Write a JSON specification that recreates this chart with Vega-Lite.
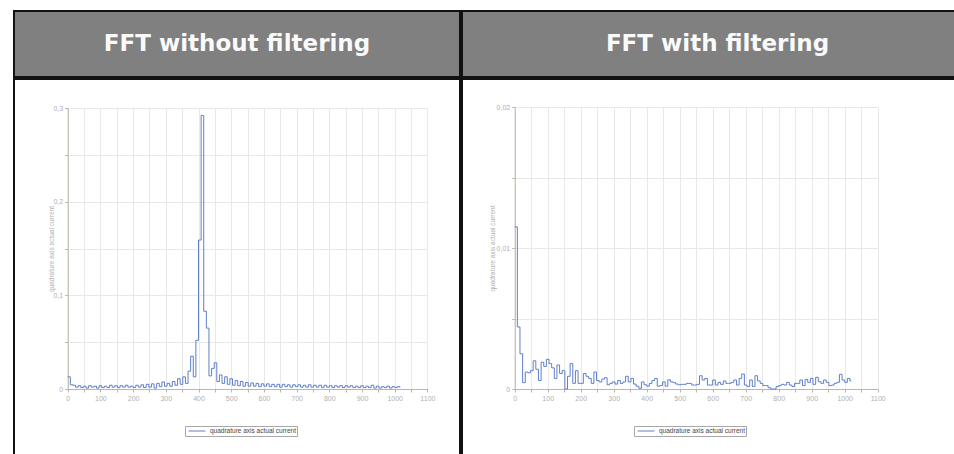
{
  "$schema": "https://vega.github.io/schema/vega-lite/v6.json",
  "background": "white",
  "padding": {"left": 13, "top": 10, "right": 0, "bottom": 0},
  "config": {
    "view": {"stroke": null},
    "font": "Liberation Sans",
    "axis": {"domainColor": "#bdb5a5", "tickColor": "#bdb5a5", "labelColor": "#b0b0b0", "labelFontSize": 7, "labelFont": "Liberation Sans", "gridColor": "#e8e8e8", "gridWidth": 1, "tickSize": 3, "labelPadding": 2, "titleColor": "#b0b0b0", "titleFontSize": 6.5, "titleFontWeight": "normal", "titleFont": "Liberation Sans", "labelFlush": false, "labelOverlap": false},
    "legend": {"orient": "none", "title": null, "strokeColor": "#a8a8a8", "fillColor": "white", "padding": 1, "symbolType": "M-0.4,0H4.4", "symbolStrokeWidth": 1, "symbolSize": 49, "labelFontSize": 6.5, "labelColor": "#444444", "labelFont": "Liberation Sans", "labelOffset": 16}
  },
  "datasets": {
    "raw": [
      {"f":0,"v":0.013},{"f":8,"v":0.0045},{"f":16,"v":0.004},{"f":24,"v":0.002},{"f":32,"v":0.0035},{"f":40,"v":0.0015},{"f":48,"v":0.003},{"f":56,"v":0.001},{"f":64,"v":0.0035},{"f":72,"v":0.002},{"f":80,"v":0.003},{"f":88,"v":0.001},{"f":96,"v":0.0035},{"f":104,"v":0.0015},{"f":112,"v":0.003},{"f":120,"v":0.0015},{"f":128,"v":0.004},{"f":136,"v":0.002},{"f":144,"v":0.0035},{"f":152,"v":0.0015},{"f":160,"v":0.0035},{"f":168,"v":0.002},{"f":176,"v":0.004},{"f":184,"v":0.002},{"f":192,"v":0.003},{"f":200,"v":0.0015},{"f":208,"v":0.004},{"f":216,"v":0.002},{"f":224,"v":0.0045},{"f":232,"v":0.0015},{"f":240,"v":0.005},{"f":248,"v":0.002},{"f":256,"v":0.0055},{"f":264,"v":0.001},{"f":272,"v":0.006},{"f":280,"v":0.0025},{"f":288,"v":0.0075},{"f":296,"v":0.003},{"f":304,"v":0.006},{"f":312,"v":0.003},{"f":320,"v":0.008},{"f":328,"v":0.004},{"f":336,"v":0.011},{"f":344,"v":0.005},{"f":352,"v":0.013},{"f":360,"v":0.006},{"f":368,"v":0.019},{"f":376,"v":0.035},{"f":384,"v":0.013},{"f":392,"v":0.052},{"f":400,"v":0.159},{"f":408,"v":0.292},{"f":416,"v":0.083},{"f":424,"v":0.065},{"f":432,"v":0.014},{"f":440,"v":0.022},{"f":448,"v":0.028},{"f":456,"v":0.008},{"f":464,"v":0.015},{"f":472,"v":0.006},{"f":480,"v":0.013},{"f":488,"v":0.005},{"f":496,"v":0.011},{"f":504,"v":0.004},{"f":512,"v":0.009},{"f":520,"v":0.0035},{"f":528,"v":0.008},{"f":536,"v":0.003},{"f":544,"v":0.007},{"f":552,"v":0.003},{"f":560,"v":0.0065},{"f":568,"v":0.003},{"f":576,"v":0.006},{"f":584,"v":0.0025},{"f":592,"v":0.0055},{"f":600,"v":0.003},{"f":608,"v":0.0055},{"f":616,"v":0.0025},{"f":624,"v":0.005},{"f":632,"v":0.0025},{"f":640,"v":0.005},{"f":648,"v":0.002},{"f":656,"v":0.005},{"f":664,"v":0.0025},{"f":672,"v":0.0045},{"f":680,"v":0.002},{"f":688,"v":0.0045},{"f":696,"v":0.0025},{"f":704,"v":0.0045},{"f":712,"v":0.002},{"f":720,"v":0.004},{"f":728,"v":0.002},{"f":736,"v":0.0045},{"f":744,"v":0.002},{"f":752,"v":0.004},{"f":760,"v":0.002},{"f":768,"v":0.004},{"f":776,"v":0.0015},{"f":784,"v":0.004},{"f":792,"v":0.002},{"f":800,"v":0.0035},{"f":808,"v":0.0015},{"f":816,"v":0.0035},{"f":824,"v":0.002},{"f":832,"v":0.0035},{"f":840,"v":0.0015},{"f":848,"v":0.0035},{"f":856,"v":0.002},{"f":864,"v":0.0035},{"f":872,"v":0.0015},{"f":880,"v":0.003},{"f":888,"v":0.0015},{"f":896,"v":0.0035},{"f":904,"v":0.0015},{"f":912,"v":0.003},{"f":920,"v":0.0015},{"f":928,"v":0.004},{"f":936,"v":0.001},{"f":944,"v":0.003},{"f":952,"v":0.001},{"f":960,"v":0.0025},{"f":968,"v":0.0015},{"f":976,"v":0.003},{"f":984,"v":0.001},{"f":992,"v":0.0025},{"f":1000,"v":0.0015},{"f":1008,"v":0.0025},{"f":1016,"v":0.0015}
    ],
    "filtered": [
      {"f":0,"v":0.0115},{"f":8,"v":0.0044},{"f":16,"v":0.0025},{"f":24,"v":0.00045},{"f":32,"v":0.0012},{"f":40,"v":0.00115},{"f":48,"v":0.0013},{"f":56,"v":0.002},{"f":64,"v":0.0014},{"f":72,"v":0.0006},{"f":80,"v":0.0019},{"f":88,"v":0.0016},{"f":96,"v":0.0021},{"f":104,"v":0.0018},{"f":112,"v":0.0015},{"f":120,"v":0.00075},{"f":128,"v":0.0017},{"f":136,"v":0.0011},{"f":144,"v":0.0013},{"f":152,"v":0},{"f":160,"v":0.0009},{"f":168,"v":0.0018},{"f":176,"v":0.0004},{"f":184,"v":0.0013},{"f":192,"v":0.0004},{"f":200,"v":0.0004},{"f":208,"v":0.0011},{"f":216,"v":0.0009},{"f":224,"v":0.00075},{"f":232,"v":0.0004},{"f":240,"v":0.0012},{"f":248,"v":0.0006},{"f":256,"v":0.0005},{"f":264,"v":0.0007},{"f":272,"v":0.0008},{"f":280,"v":0.0003},{"f":288,"v":0.0004},{"f":296,"v":0.0005},{"f":304,"v":0.00035},{"f":312,"v":0.0006},{"f":320,"v":0.0004},{"f":328,"v":0.0005},{"f":336,"v":0.0009},{"f":344,"v":0.0005},{"f":352,"v":0.00075},{"f":360,"v":0.00035},{"f":368,"v":0.0002},{"f":376,"v":0.00005},{"f":384,"v":0.0005},{"f":392,"v":0.0003},{"f":400,"v":0.0002},{"f":408,"v":0.0004},{"f":416,"v":0.0006},{"f":424,"v":0.00075},{"f":432,"v":0.0002},{"f":440,"v":0.00025},{"f":448,"v":0.0005},{"f":456,"v":0.0002},{"f":464,"v":0.00065},{"f":472,"v":0.0005},{"f":480,"v":0.00045},{"f":488,"v":0.00035},{"f":496,"v":0.0003},{"f":504,"v":0.00033},{"f":512,"v":0.00033},{"f":520,"v":0.0004},{"f":528,"v":0.0004},{"f":536,"v":0.00028},{"f":544,"v":0.00028},{"f":552,"v":0.00033},{"f":560,"v":0.00094},{"f":568,"v":0.00064},{"f":576,"v":0.00075},{"f":584,"v":0.00028},{"f":592,"v":0.00028},{"f":600,"v":0.00064},{"f":608,"v":0.00028},{"f":616,"v":0.00047},{"f":624,"v":0.00033},{"f":632,"v":0.00057},{"f":640,"v":0.0004},{"f":648,"v":0.0004},{"f":656,"v":0.00047},{"f":664,"v":0.00064},{"f":672,"v":0.00028},{"f":680,"v":0.00075},{"f":688,"v":0.00106},{"f":696,"v":0.00028},{"f":704,"v":0.00017},{"f":712,"v":0.00064},{"f":720,"v":0.00017},{"f":728,"v":0.00094},{"f":736,"v":0.00057},{"f":744,"v":0.0004},{"f":752,"v":0.00024},{"f":760,"v":0.00024},{"f":768,"v":0.00009},{"f":776,"v":0},{"f":784,"v":0},{"f":792,"v":0.00017},{"f":800,"v":0.00024},{"f":808,"v":0.00033},{"f":816,"v":0.00028},{"f":824,"v":0.00047},{"f":832,"v":0.00028},{"f":840,"v":0.00017},{"f":848,"v":0.0004},{"f":856,"v":0.0004},{"f":864,"v":0.00064},{"f":872,"v":0.00024},{"f":880,"v":0.00068},{"f":888,"v":0.00047},{"f":896,"v":0.00075},{"f":904,"v":0.00033},{"f":912,"v":0.00083},{"f":920,"v":0.00052},{"f":928,"v":0.0004},{"f":936,"v":0.00064},{"f":944,"v":0.00047},{"f":952,"v":0.00024},{"f":960,"v":0.00028},{"f":968,"v":0.0004},{"f":976,"v":0.00047},{"f":984,"v":0.00104},{"f":992,"v":0.00064},{"f":1000,"v":0.00047},{"f":1008,"v":0.00075},{"f":1016,"v":0.00057},{"f":1020,"v":0.00057}
    ]
  },
  "spacing": 0,
  "resolve": {"scale": {"color": "independent"}, "legend": {"color": "independent"}},
  "hconcat": [
    {
      "spacing": 0,
      "vconcat": [
        {
          "width": 446,
          "height": 66,
          "view": {"fill": "#808080", "stroke": "#111111", "strokeWidth": 2},
          "data": {"values": [{"t": "FFT without filtering"}]},
          "mark": {"type": "text", "font": "DejaVu Sans", "fontWeight": "bold", "fontSize": 23, "color": "#fafafa", "align": "center", "baseline": "middle"},
          "encoding": {"text": {"field": "t", "type": "nominal"}}
        },
        {
          "width": 446,
          "height": 378,
          "view": {"fill": "white", "stroke": "#111111", "strokeWidth": 2},
          "data": {"name": "raw"},
          "layer": [
            {
              "mark": {"type": "line", "interpolate": "step-after", "strokeWidth": 1},
              "encoding": {
                "x": {"field": "f", "type": "quantitative", "scale": {"domain": [0, 1100], "range": [53.7, 413.4], "nice": false, "zero": false},
                  "axis": {"orient": "bottom", "grid": false, "offset": -68, "title": null, "format": "d", "values": [0,50,100,150,200,250,300,350,400,450,500,550,600,650,700,750,800,850,900,950,1000,1050,1100], "labelExpr": "datum.value % 100 === 0 ? datum.label : ''"}},
                "y": {"field": "v", "type": "quantitative", "scale": {"domain": [0, 0.3], "range": [310, 29], "nice": false, "zero": false},
                  "axis": {"orient": "left", "grid": true, "offset": -53.7, "title": "quadrature axis actual current", "titleX": -13, "values": [0,0.05,0.1,0.15,0.2,0.25,0.3], "labelExpr": "abs(datum.value*10 - round(datum.value*10)) < 0.000001 ? (datum.value === 0 ? '0' : replace(format(datum.value, '.1f'), '.', ',')) : ''"}},
                "color": {"datum": "quadrature axis actual current", "type": "nominal", "scale": {"range": ["#5f7fca"]}, "legend": {"legendX": 171, "legendY": 415}}
              }
            },
            {
              "mark": {"type": "line", "opacity": 0},
              "encoding": {
                "x": {"field": "f", "type": "quantitative", "scale": {"domain": [0, 1100], "range": [53.7, 413.4], "nice": false, "zero": false},
                  "axis": {"orient": "top", "grid": true, "labels": false, "ticks": false, "domain": false, "title": null, "values": [0,50,100,150,200,250,300,350,400,450,500,550,600,650,700,750,800,850,900,950,1000,1050,1100]}},
                "y": {"field": "v", "type": "quantitative", "scale": {"domain": [0, 0.3], "range": [310, 29], "nice": false, "zero": false},
                  "axis": {"orient": "left", "grid": true, "offset": -53.7, "title": "quadrature axis actual current", "titleX": -13, "values": [0,0.05,0.1,0.15,0.2,0.25,0.3], "labelExpr": "abs(datum.value*10 - round(datum.value*10)) < 0.000001 ? (datum.value === 0 ? '0' : replace(format(datum.value, '.1f'), '.', ',')) : ''"}}
              }
            }
          ]
        }
      ]
    },
    {
      "spacing": 0,
      "vconcat": [
        {
          "width": 495,
          "height": 66,
          "view": {"fill": "#808080", "stroke": "#111111", "strokeWidth": 2},
          "data": {"values": [{"t": "FFT with filtering"}]},
          "mark": {"type": "text", "font": "DejaVu Sans", "fontWeight": "bold", "fontSize": 23, "color": "#fafafa", "align": "center", "baseline": "middle", "dx": 8},
          "encoding": {"text": {"field": "t", "type": "nominal"}}
        },
        {
          "width": 495,
          "height": 378,
          "view": {"fill": "white", "stroke": "#111111", "strokeWidth": 2},
          "data": {"name": "filtered"},
          "layer": [
            {
              "mark": {"type": "line", "interpolate": "step-after", "strokeWidth": 1},
              "encoding": {
                "x": {"field": "f", "type": "quantitative", "scale": {"domain": [0, 1100], "range": [52.7, 415.7], "nice": false, "zero": false},
                  "axis": {"orient": "bottom", "grid": false, "offset": -68, "title": null, "format": "d", "values": [0,50,100,150,200,250,300,350,400,450,500,550,600,650,700,750,800,850,900,950,1000,1050,1100], "labelExpr": "datum.value % 100 === 0 ? datum.label : ''"}},
                "y": {"field": "v", "type": "quantitative", "scale": {"domain": [0, 0.02], "range": [310, 28], "nice": false, "zero": false},
                  "axis": {"orient": "left", "grid": true, "offset": -52.7, "title": "quadrature axis actual current", "titleX": -19.5, "values": [0,0.005,0.01,0.015,0.02], "labelExpr": "abs(datum.value*100 - round(datum.value*100)) < 0.000001 ? (datum.value === 0 ? '0' : replace(format(datum.value, '.2f'), '.', ',')) : ''"}},
                "color": {"datum": "quadrature axis actual current", "type": "nominal", "scale": {"range": ["#5f7fca"]}, "legend": {"legendX": 172, "legendY": 415}}
              }
            },
            {
              "mark": {"type": "line", "opacity": 0},
              "encoding": {
                "x": {"field": "f", "type": "quantitative", "scale": {"domain": [0, 1100], "range": [52.7, 415.7], "nice": false, "zero": false},
                  "axis": {"orient": "top", "grid": true, "labels": false, "ticks": false, "domain": false, "title": null, "values": [0,50,100,150,200,250,300,350,400,450,500,550,600,650,700,750,800,850,900,950,1000,1050,1100]}},
                "y": {"field": "v", "type": "quantitative", "scale": {"domain": [0, 0.02], "range": [310, 28], "nice": false, "zero": false},
                  "axis": {"orient": "left", "grid": true, "offset": -52.7, "title": "quadrature axis actual current", "titleX": -19.5, "values": [0,0.005,0.01,0.015,0.02], "labelExpr": "abs(datum.value*100 - round(datum.value*100)) < 0.000001 ? (datum.value === 0 ? '0' : replace(format(datum.value, '.2f'), '.', ',')) : ''"}}
              }
            }
          ]
        }
      ]
    }
  ]
}
